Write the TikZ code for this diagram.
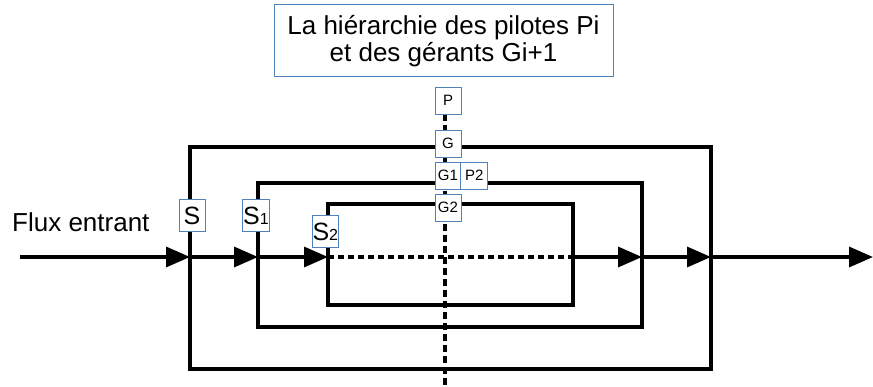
\documentclass[tikz,border=0pt]{standalone}
\usepackage{fontspec}
\setmainfont{Liberation Sans}
\usetikzlibrary{arrows.meta}
\definecolor{boxblue}{RGB}{79,129,189}
\begin{document}
\begin{tikzpicture}[x=1pt,y=-1pt,
  tipped/.style={line width=3.4pt,-{Triangle[length=24pt,width=20pt]}},
  wall/.style={line width=3.4pt, line join=miter},
  dashline/.style={line width=3.4pt, dash pattern=on 6pt off 4pt},
  tag/.style={draw=boxblue, fill=white, line width=1pt, inner sep=0pt, minimum width=26pt, minimum height=27pt, font=\fontsize{15}{15}\selectfont},
  stag/.style={draw=boxblue, fill=white, line width=1pt, inner sep=0pt, minimum width=26pt, minimum height=32pt, font=\fontsize{25}{25}\selectfont}]
\useasboundingbox (0,0) rectangle (873,387);
% nested regions
\draw[wall] (190,147) rectangle (711,369);
\draw[wall] (258,183) rectangle (642,327);
\draw[wall] (328,204) rectangle (573,305);
% flow coordinates
\coordinate (in) at (20,257);
\coordinate (oL) at (190,257);
\coordinate (mL) at (258,257);
\coordinate (iL) at (328,257);
\coordinate (iR) at (573,257);
\coordinate (mR) at (642,257);
\coordinate (oR) at (711,257);
\coordinate (out) at (873,257);
\coordinate (vt) at (445,114);
\coordinate (vb) at (445,387);
% vertical hierarchy line
\draw[dashline, dash pattern=on 7pt off 4pt] (vt) -- (vb);
% flow
\draw[tipped] (in) -- (oL);
\draw[tipped] (oL) -- (mL);
\draw[tipped] (mL) -- (iL);
\draw[dashline] (iL) -- (iR);
\draw[tipped] (iR) -- (mR);
\draw[tipped] (mR) -- (oR);
\draw[tipped] (oR) -- (out);
% tags
\node[tag] (P) at (448,100.7) {P};
\node[tag] (G) at (448,143.7) {G};
\node[tag] (G1) at (448,175.7) {G1};
\node[tag, minimum width=26.7pt] (P2) at (474.3,175.7) {P2};
\node[tag] (G2) at (448,207.7) {G2};
\node[stag] (S) at (192,215.5) {S};
\node[stag, minimum width=26.7pt] (S1) at (256,215.5) {S{\fontsize{16}{16}\selectfont 1}};
\node[stag] (S2) at (325.3,231.5) {S{\fontsize{16}{16}\selectfont 2}};
% texts
\node[draw=boxblue, line width=1pt, fill=white, minimum width=339pt, minimum height=72pt, inner sep=0pt, align=center, font=\fontsize{26}{27}\selectfont] (title) at (443.5,41) {La hiérarchie des pilotes Pi\\et des gérants Gi+1};
\node[anchor=base west, inner sep=0pt, font=\fontsize{26}{26}\selectfont] (flux) at (12,232) {Flux entrant};
\end{tikzpicture}
\end{document}
